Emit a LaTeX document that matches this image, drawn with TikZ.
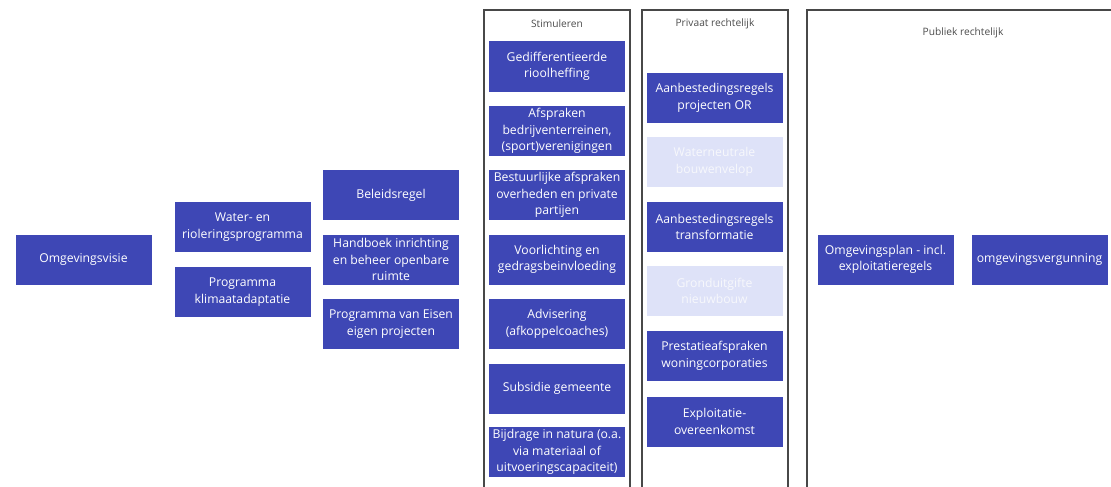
\documentclass[tikz,border=0pt]{standalone}
\usepackage{fontspec}
\setmainfont{Open Sans}
\usepackage{tikz}
\usetikzlibrary{calc}
\definecolor{instrblauw}{RGB}{62,71,181}
\definecolor{instrlicht}{RGB}{222,226,248}
\definecolor{kaderrand}{RGB}{72,72,72}
\tikzset{instrument/.style={
    fill=instrblauw,
    text=white,
    minimum width=136pt,
    minimum height=50pt,
    inner sep=0pt,
    align=center,
    font=\fontsize{12.2}{16.5}\selectfont},
  vervallen/.style={
    instrument,
    fill=instrlicht,
    text=white!96!instrblauw},
  kader/.style={
    draw=kaderrand,
    line width=1.6pt},
  kop/.style={
    text=black!70,
    font=\fontsize{10.2}{12}\selectfont}}

\begin{document}
\begin{tikzpicture}[x=1pt,y=-1pt]
	\useasboundingbox (0,0) rectangle (1111,487);
\clip (0,0) rectangle (1111,487);

\coordinate (S) at (557,0);
\coordinate (P) at (714.5,0);

% kaders
\draw[kader] (484,10) rectangle (630,500);
\draw[kader] (642,10) rectangle (788,500);
\draw[kader] (807,10) rectangle (1130,500);
\node[kop] (stim) at (557,24) {Stimuleren};
\node[kop] (priv) at (715,24) {Privaat rechtelijk};
\node[kop] (publ) at (963,33) {Publiek rechtelijk};

% visie en programma's
\node[instrument] (visie) at (83.5,259.5) {Omgevingsvisie};
\node[instrument] (waterprog) at (242.5,227) {Water- en\\rioleringsprogramma};
\node[instrument] (klimaat) at (242.5,292) {Programma\\klimaatadaptatie};
\node[instrument] (beleid) at (391,195) {Beleidsregel};
\node[instrument] (handboek) at (391,259.5) {Handboek inrichting\\en beheer openbare\\ruimte};
\node[instrument] (pve) at (391,324) {Programma van Eisen\\eigen projecten};

% stimuleren
\node[instrument] (heffing) at ($(S)+(0,66.5)$) {Gedifferentieerde\\rioolheffing};
\node[instrument] (afspraken) at ($(S)+(0,131)$) {Afspraken\\bedrijventerreinen,\\(sport)verenigingen};
\node[instrument] (bestuur) at ($(S)+(0,195)$) {Bestuurlijke afspraken\\overheden en private\\partijen};
\node[instrument] (voorl) at ($(S)+(0,259.5)$) {Voorlichting en\\gedragsbeinvloeding};
\node[instrument] (advies) at ($(S)+(0,324)$) {Advisering\\(afkoppelcoaches)};
\node[instrument] (subsidie) at ($(S)+(0,388.5)$) {Subsidie gemeente};
\node[instrument] (natura) at ($(S)+(0,452)$) {Bijdrage in natura (o.a.\\via materiaal of\\uitvoeringscapaciteit)};

% privaat rechtelijk
\node[instrument] (aanbOR) at ($(P)+(0,98)$) {Aanbestedingsregels\\projecten OR};
\node[vervallen] (bouwenv) at ($(P)+(0,162)$) {Waterneutrale\\bouwenvelop};
\node[instrument] (aanbtrans) at ($(P)+(0,227)$) {Aanbestedingsregels\\transformatie};
\node[vervallen] (grond) at ($(P)+(0,291)$) {Gronduitgifte\\nieuwbouw};
\node[instrument] (prestatie) at ($(P)+(0,356)$) {Prestatieafspraken\\woningcorporaties};
\node[instrument] (exploit) at ($(P)+(0,421.5)$) {Exploitatie-\\overeenkomst};

% publiek rechtelijk
\node[instrument] (omgplan) at (885.5,259.5) {Omgevingsplan - incl.\\exploitatieregels};
\node[instrument] (vergunning) at (1039.5,259.5) {omgevingsvergunning};

\end{tikzpicture}
\end{document}
